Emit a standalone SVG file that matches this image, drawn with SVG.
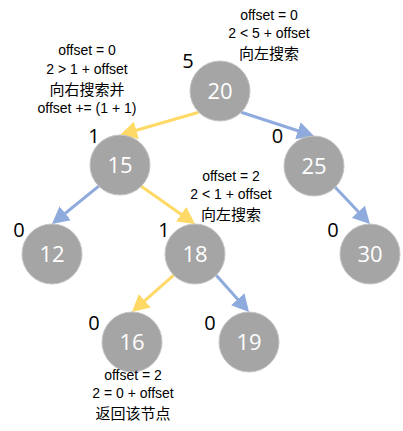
<svg xmlns="http://www.w3.org/2000/svg" width="403" height="431" viewBox="0 0 403 431">
<style>
.node circle{fill:#A5A5A5;stroke:#C4C4C4;stroke-width:1}
.node .lbl{font-family:"Open Sans","Liberation Sans",sans-serif;font-size:22px;fill:#FFFFFF;text-anchor:middle}
.node .bal{font-family:"Open Sans","Liberation Sans",sans-serif;font-size:20px;fill:#000000;text-anchor:middle}
.note{font-family:"Liberation Sans","Noto Sans CJK SC",sans-serif;font-size:14px;fill:#000000;text-anchor:middle}
.note .cjk{font-family:"Noto Sans CJK SC",sans-serif;font-size:15px}
.y{stroke:#FFD966;stroke-width:3;fill:none;marker-end:url(#ay)}
.b{stroke:#8FAADC;stroke-width:3;fill:none;marker-end:url(#ab)}
</style>
<defs>
<marker id="ay" markerUnits="userSpaceOnUse" markerWidth="18" markerHeight="18" refX="9" refY="9" orient="auto"><path d="M0,0 L17,9 L0,18 z" fill="#FFD966"/></marker>
<marker id="ab" markerUnits="userSpaceOnUse" markerWidth="18" markerHeight="18" refX="9" refY="9" orient="auto"><path d="M0,0 L17,9 L0,18 z" fill="#8FAADC"/></marker>
</defs>
<rect width="403" height="431" fill="#FFFFFF"/>
<g id="connectors">
<line class="y" x1="198.8" y1="112.2" x2="127.7" y2="132.8"/>
<line class="b" x1="241.2" y1="112.2" x2="306.4" y2="133.5"/>
<line class="b" x1="98.8" y1="186.2" x2="58.2" y2="219.0"/>
<line class="y" x1="141.2" y1="186.2" x2="188.5" y2="219.4"/>
<line class="b" x1="335.2" y1="187.2" x2="364.5" y2="218.2"/>
<line class="y" x1="173.8" y1="275.2" x2="138" y2="306.7"/>
<line class="b" x1="216.2" y1="275.2" x2="243.7" y2="306"/>
</g>
<g id="n20" class="node"><circle cx="220" cy="91" r="30"/><text class="lbl" x="220" y="99">20</text><text class="bal" x="188" y="68">5</text></g>
<g id="n15" class="node"><circle cx="120" cy="165" r="30"/><text class="lbl" x="120" y="173">15</text><text class="bal" x="94" y="143">1</text></g>
<g id="n25" class="node"><circle cx="314" cy="166" r="30"/><text class="lbl" x="314" y="174">25</text><text class="bal" x="277.5" y="143">0</text></g>
<g id="n12" class="node"><circle cx="52" cy="254" r="30"/><text class="lbl" x="52" y="262">12</text><text class="bal" x="19" y="237">0</text></g>
<g id="n18" class="node"><circle cx="195" cy="254" r="30"/><text class="lbl" x="195" y="262">18</text><text class="bal" x="164" y="237">1</text></g>
<g id="n30" class="node"><circle cx="370" cy="254" r="30"/><text class="lbl" x="370" y="262">30</text><text class="bal" x="333" y="237">0</text></g>
<g id="n16" class="node"><circle cx="132" cy="342" r="30"/><text class="lbl" x="132" y="350">16</text><text class="bal" x="94" y="330">0</text></g>
<g id="n19" class="node"><circle cx="249" cy="342" r="30"/><text class="lbl" x="249" y="350">19</text><text class="bal" x="210" y="330">0</text></g>
<g id="notes">
<text class="note"><tspan x="87" y="55">offset = 0</tspan><tspan x="87" y="74">2 &gt; 1 + offset</tspan><tspan class="cjk" x="87" y="95">向右搜索并</tspan><tspan x="87" y="112.5">offset += (1 + 1)</tspan></text>
<text class="note"><tspan x="269" y="20">offset = 0</tspan><tspan x="269" y="38">2 &lt; 5 + offset</tspan><tspan class="cjk" x="269" y="58.5">向左搜索</tspan></text>
<text class="note"><tspan x="231" y="181">offset = 2</tspan><tspan x="231" y="199">2 &lt; 1 + offset</tspan><tspan class="cjk" x="231" y="219.5">向左搜索</tspan></text>
<text class="note"><tspan x="133" y="380">offset = 2</tspan><tspan x="133" y="398">2 = 0 + offset</tspan><tspan class="cjk" x="133" y="418.5">返回该节点</tspan></text>
</g>
</svg>
